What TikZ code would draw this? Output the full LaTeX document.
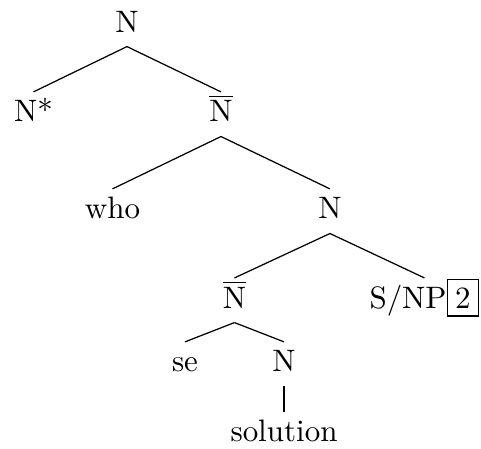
\documentclass[tikz,border=0pt]{standalone}
\usepackage{tikz}
\usetikzlibrary{positioning}

\begin{document}
\begin{tikzpicture}[
  cat/.style={anchor=base, inner sep=2.5pt, text height=7pt, text depth=2pt},
  word/.style={cat},
  branch/.style={draw=black, line width=0.4pt},
]

  % Fixed frame (keeps the margins of the picture)
  \useasboundingbox (0, 0) rectangle (5.455, -5.092);

  % Categories
  \node[cat] (top) at (1.440, -0.363) {N};
  \node[cat] (nstar) at (0.380, -1.383) {N*};
  \node[cat] (nbarA) at (2.506, -1.383) {$\overline{\mathrm{N}}$};
  \node[word] (who) at (1.276, -2.483) {who};
  \node[cat] (nmid) at (3.742, -2.483) {N};
  \node[cat] (nbarB) at (2.659, -3.493) {$\overline{\mathrm{N}}$};
  \node[cat] (snp) at (4.814, -3.493) {S/NP{\fboxsep=2.4pt\fbox{2}}};
  \node[word] (se) at (2.098, -4.218) {se};
  \node[cat] (nlow) at (3.221, -4.218) {N};
  \node[word] (sol) at (3.221, -5.012) {solution};

  % Branches
  \draw[branch] (top.south) -- (nstar.north);
  \draw[branch] (top.south) -- (nbarA.north);
  \draw[branch] (nbarA.south) -- (who.north);
  \draw[branch] (nbarA.south) -- (nmid.north);
  \draw[branch] (nmid.south) -- (nbarB.north);
  \draw[branch] (nmid.south) -- (snp.north);
  \draw[branch] (nbarB.south) -- (se.north);
  \draw[branch] (nbarB.south) -- (nlow.north);
  \draw[branch] (nlow.south) -- (sol.north);

\end{tikzpicture}
\end{document}
